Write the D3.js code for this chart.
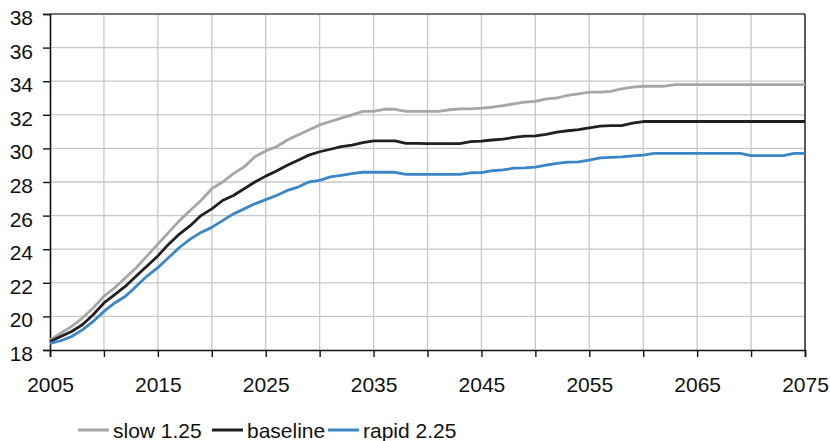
<!DOCTYPE html>
<html>
<head>
<meta charset="utf-8">
<script src="https://cdn.jsdelivr.net/npm/d3@7"></script>
<style>
  body { margin: 0; background: #fff; }
  svg text { font-family: "Liberation Sans", Arial, sans-serif; }
</style>
</head>
<body>
<div id="chart"></div>
<script>
// years 2005..2075, one value per year
var years = d3.range(2005, 2076);

var slow = [18.6, 19.0, 19.4, 19.9, 20.5, 21.2, 21.7, 22.3, 22.9, 23.6,
  24.3, 25.0, 25.7, 26.3, 26.9, 27.6, 28.0, 28.5, 28.9, 29.5,
  29.85, 30.1, 30.5, 30.8, 31.1, 31.4, 31.6, 31.8, 32.0, 32.2,
  32.2, 32.33, 32.33, 32.2, 32.2, 32.2, 32.2, 32.3, 32.35, 32.35,
  32.4, 32.45, 32.55, 32.65, 32.75, 32.8, 32.95, 33.0, 33.15, 33.25,
  33.35, 33.35, 33.4, 33.55, 33.65, 33.7, 33.7, 33.7, 33.8, 33.8,
  33.8, 33.8, 33.8, 33.8, 33.8, 33.8, 33.8, 33.8, 33.8, 33.8, 33.8];

var baseline = [18.5, 18.8, 19.1, 19.5, 20.1, 20.8, 21.3, 21.8, 22.4, 23.0,
  23.6, 24.3, 24.9, 25.4, 26.0, 26.4, 26.9, 27.2, 27.6, 28.0,
  28.35, 28.65, 29.0, 29.3, 29.6, 29.8, 29.95, 30.1, 30.2, 30.35,
  30.45, 30.45, 30.45, 30.3, 30.3, 30.28, 30.28, 30.28, 30.28, 30.4,
  30.43, 30.5, 30.55, 30.65, 30.73, 30.75, 30.83, 30.97, 31.05, 31.12,
  31.22, 31.32, 31.36, 31.36, 31.5, 31.6, 31.6, 31.6, 31.6, 31.6,
  31.6, 31.6, 31.6, 31.6, 31.6, 31.6, 31.6, 31.6, 31.6, 31.6, 31.6];

var rapid = [18.4, 18.55, 18.8, 19.2, 19.7, 20.3, 20.8, 21.2, 21.8, 22.4,
  22.9, 23.5, 24.1, 24.6, 25.0, 25.3, 25.7, 26.1, 26.4, 26.7,
  26.95, 27.2, 27.5, 27.7, 28.0, 28.1, 28.3, 28.4, 28.5, 28.58,
  28.58, 28.58, 28.58, 28.45, 28.45, 28.45, 28.45, 28.45, 28.45, 28.55,
  28.56, 28.67, 28.72, 28.82, 28.84, 28.88, 29.0, 29.11, 29.18, 29.2,
  29.3, 29.43, 29.47, 29.5, 29.55, 29.6, 29.7, 29.7, 29.7, 29.7,
  29.7, 29.7, 29.7, 29.7, 29.7, 29.57, 29.57, 29.57, 29.57, 29.7, 29.7];

var seriesNames = ["slow 1.25", "baseline", "rapid 2.25"];
var seriesColors = ["#a6a6a6", "#231f20", "#3a86c6"];
var yTicks = [18, 20, 22, 24, 26, 28, 30, 32, 34, 36, 38];
var xTicks = d3.range(2005, 2076, 5);
var xLabels = [2005, 2015, 2025, 2035, 2045, 2055, 2065, 2075];

var w = 830, h = 441;
var plotLeft = 50, plotRight = 805, plotTop = 14, plotBottom = 350;

var x = d3.scaleLinear().domain([2005, 2075]).range([plotLeft, plotRight]);
var y = d3.scaleLinear().domain([18, 38]).range([plotBottom, plotTop]);

var svg = d3.select("#chart").append("svg")
  .attr("width", w)
  .attr("height", h);

// gridlines
svg.selectAll("line.hgrid")
  .data(yTicks.slice(1))
  .enter().append("line")
  .attr("x1", plotLeft).attr("x2", plotRight)
  .attr("y1", function(d) { return y(d); })
  .attr("y2", function(d) { return y(d); })
  .attr("stroke", "#c8c8c8")
  .attr("stroke-width", 1.3);

svg.selectAll("line.vgrid")
  .data(xTicks.slice(1, -1))
  .enter().append("line")
  .attr("y1", plotTop).attr("y2", plotBottom)
  .attr("x1", function(d) { return x(d); })
  .attr("x2", function(d) { return x(d); })
  .attr("stroke", "#c8c8c8")
  .attr("stroke-width", 1.3);

// frame top and right
svg.append("line")
  .attr("x1", plotLeft).attr("x2", plotRight)
  .attr("y1", plotTop).attr("y2", plotTop)
  .attr("stroke", "#555").attr("stroke-width", 1.3);
svg.append("line")
  .attr("x1", plotRight).attr("x2", plotRight)
  .attr("y1", plotTop).attr("y2", plotBottom)
  .attr("stroke", "#222").attr("stroke-width", 1.5);

// axes
var yAxis = d3.axisLeft(y).tickValues(yTicks).tickSize(7).tickPadding(10);
var gy = svg.append("g").attr("transform", "translate(" + plotLeft + ",0)").call(yAxis);
gy.select(".domain").attr("stroke", "#111").attr("stroke-width", 1.6);
gy.selectAll(".tick line").attr("stroke", "#111").attr("stroke-width", 1.4);
gy.selectAll(".tick text")
  .attr("font-size", 21)
  .attr("fill", "#111")
  .attr("dy", "0.5em")
  .attr("font-family", "Liberation Sans, Arial, sans-serif");

var xAxis = d3.axisBottom(x).tickValues(xTicks).tickSize(7).tickPadding(20)
  .tickFormat(function(d) { return xLabels.indexOf(d) >= 0 ? d : ""; });
var gx = svg.append("g").attr("transform", "translate(0," + plotBottom + ")").call(xAxis);
gx.select(".domain").attr("stroke", "#111").attr("stroke-width", 1.6);
gx.selectAll(".tick line").attr("stroke", "#111").attr("stroke-width", 1.4);
gx.selectAll(".tick text")
  .attr("font-size", 21)
  .attr("fill", "#111")
  .attr("font-family", "Liberation Sans, Arial, sans-serif");

// lines
var allSeries = [slow, baseline, rapid];
var line = d3.line()
  .x(function(d, i) { return x(years[i]); })
  .y(function(d) { return y(d); });

svg.selectAll("path.series")
  .data(allSeries)
  .enter().append("path")
  .attr("class", "series")
  .attr("d", line)
  .attr("fill", "none")
  .attr("stroke", function(d, i) { return seriesColors[i]; })
  .attr("stroke-width", 2.8)
  .attr("stroke-linejoin", "round");

// legend
var legX = [78, 212, 328];
var leg = svg.selectAll("g.legend")
  .data(seriesNames)
  .enter().append("g")
  .attr("transform", function(d, i) { return "translate(" + legX[i] + ",430)"; });
leg.append("line")
  .attr("x1", 0).attr("x2", 31)
  .attr("y1", 0).attr("y2", 0)
  .attr("stroke", function(d, i) { return seriesColors[i]; })
  .attr("stroke-width", 3);
leg.append("text")
  .attr("x", 35)
  .attr("y", 7.5)
  .attr("font-size", 21)
  .attr("fill", "#111")
  .text(function(d) { return d; });
</script>
</body>
</html>
